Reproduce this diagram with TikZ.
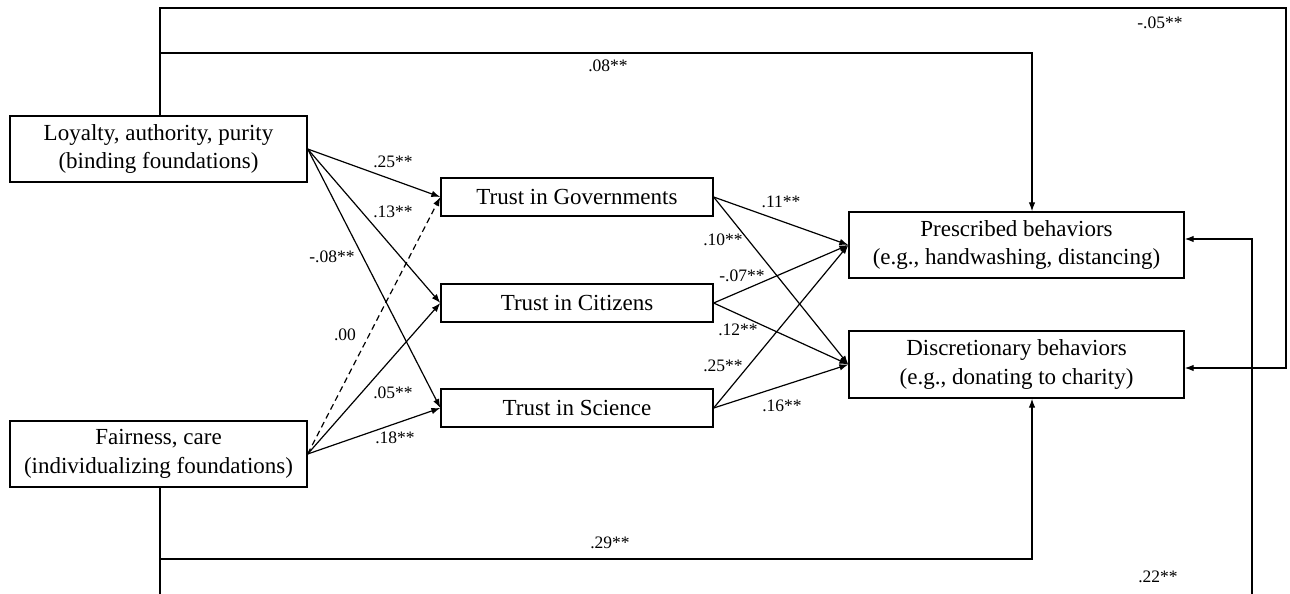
\documentclass[tikz,border=0pt]{standalone}
\usepackage{fontspec}
\setmainfont{Liberation Serif}
\usetikzlibrary{arrows.meta,calc}
\begin{document}
\begin{tikzpicture}[x=1pt,y=-1pt,
  box/.style={draw,line width=1.3pt,rectangle,inner sep=0pt,align=center,
    font=\fontsize{23}{28.5}\selectfont},
  bigbox/.style={box,minimum height=66pt},
  tbox/.style={box,minimum width=272pt,minimum height=38pt},
  lab/.style={font=\fontsize{17.5}{20}\selectfont,inner sep=0pt},
  link/.style={line width=1.2pt},
  arr/.style={link,-{Latex[length=9pt,width=6.5pt]}}]
\useasboundingbox (0,0) rectangle (1290,594);
\fill[white] (0,0) rectangle (1290,594);
% boxes
\node[bigbox,minimum width=297pt] (loy) at (158.5,149) {Loyalty, authority, purity\\(binding foundations)};
\node[bigbox,minimum width=297pt] (fair) at (158.5,454) {Fairness, care\\(individualizing foundations)};
\node[tbox] (gov) at (577,197) {Trust in Governments};
\node[tbox] (cit) at (577,303) {Trust in Citizens};
\node[tbox] (sci) at (577,408) {Trust in Science};
\node[bigbox,minimum width=335pt] (pre) at (1016.5,245) {Prescribed behaviors\\(e.g., handwashing, distancing)};
\node[bigbox,minimum width=335pt,minimum height=67pt] (dis) at (1016.5,364.5) {Discretionary behaviors\\(e.g., donating to charity)};
% left to middle
\draw[arr] (loy.east) -- (gov.west);
\draw[arr] (loy.east) -- (cit.west);
\draw[arr] (loy.east) -- (sci.west);
\draw[arr,dash pattern=on 6pt off 4pt] (fair.east) -- (gov.west);
\draw[arr] (fair.east) -- (cit.west);
\draw[arr] (fair.east) -- (sci.west);
% middle to right
\draw[arr] (gov.east) -- (pre.west);
\draw[arr] (gov.east) -- (dis.west);
\draw[arr] (cit.east) -- (pre.west);
\draw[arr] (cit.east) -- (dis.west);
\draw[arr] (sci.east) -- (pre.west);
\draw[arr] (sci.east) -- (dis.west);
% outer paths
\coordinate (t1) at (1286,8);
\coordinate (t2) at (1032,53);
\coordinate (b0) at (1032,559);
\coordinate (b1) at (160,594);
\coordinate (b2) at (1252,594);
\draw[arr] ([xshift=1.5pt]loy.north) |- (t1) |- ([yshift=-3.5pt]dis.east);
\draw[arr] ([xshift=1.5pt]loy.north) |- (t2) -- (t2 |- pre.north);
\draw[arr] ([xshift=1.5pt]fair.south) |- (b0) -- (b0 |- dis.south);
\draw[link] ([xshift=1.5pt]fair.south) -- (b1);
\draw[arr] (b2) |- ([yshift=6pt]pre.east);
% labels
\node[lab] (l1) at (393,162) {.25**};
\node[lab] (l2) at (393,212) {.13**};
\node[lab] (l3) at (332,257) {-.08**};
\node[lab] (l4) at (345,335) {.00};
\node[lab] (l5) at (393,393) {.05**};
\node[lab] (l6) at (395,438) {.18**};
\node[lab] (l7) at (781,202) {.11**};
\node[lab] (l8) at (723,240) {.10**};
\node[lab] (l9) at (742,276) {-.07**};
\node[lab] (l10) at (738,330) {.12**};
\node[lab] (l11) at (723,366) {.25**};
\node[lab] (l12) at (782,406) {.16**};
\node[lab] (l13) at (608,66) {.08**};
\node[lab] (l14) at (1160,23) {-.05**};
\node[lab] (l15) at (610,543) {.29**};
\node[lab] (l16) at (1158,577) {.22**};
\end{tikzpicture}
\end{document}
